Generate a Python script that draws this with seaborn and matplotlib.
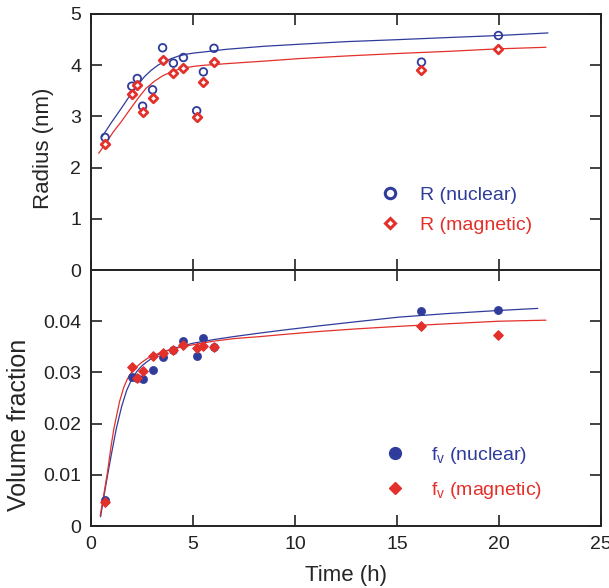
import pandas as pd
import seaborn as sns
import matplotlib.pyplot as plt
from matplotlib.lines import Line2D

# measured points (time in h)
time_h = [0.69, 2.0, 2.27, 2.53, 3.02, 3.51, 4.04, 4.53, 5.18, 5.51, 6.03, 16.2, 19.97]
R_nuc = [2.59, 3.59, 3.74, 3.20, 3.52, 4.34, 4.04, 4.15, 3.11, 3.87, 4.33, 4.06, 4.58]
R_mag = [2.47, 3.44, 3.61, 3.08, 3.35, 4.10, 3.85, 3.94, 2.98, 3.67, 4.06, 3.91, 4.31]
fv_nuc = [0.0051, 0.0292, 0.0289, 0.0288, 0.0304, 0.0330, 0.0344, 0.0361, 0.0333, 0.0367, 0.0349, 0.0419, 0.0421]
fv_mag = [0.0046, 0.0311, 0.0289, 0.0302, 0.0333, 0.0337, 0.0343, 0.0354, 0.0348, 0.0351, 0.0349, 0.0390, 0.0374]

# fitted curves
fitR_nuc_t = [0.54, 1.0, 1.49, 1.98, 2.3, 2.63, 2.95, 3.28, 3.6, 3.94, 4.3, 4.75, 5.1, 5.57, 6.0, 6.63,
			  8.5, 10.25, 12.5, 15.1, 17.5, 20.0, 22.4]
fitR_nuc = [2.60, 2.88, 3.16, 3.45, 3.62, 3.78, 3.90, 4.00, 4.07, 4.13, 4.18, 4.22, 4.24, 4.26, 4.28, 4.31,
			4.37, 4.41, 4.46, 4.50, 4.54, 4.58, 4.63]
fitR_mag_t = [0.38, 0.83, 1.1, 1.49, 1.9, 2.30, 2.7, 3.12, 3.5, 3.94, 4.3, 4.75, 5.1, 5.57, 6.0, 6.63,
			  8.5, 10.25, 12.5, 15.1, 17.5, 20.0, 22.3]
fitR_mag = [2.28, 2.54, 2.70, 2.90, 3.13, 3.35, 3.55, 3.69, 3.79, 3.87, 3.92, 3.96, 3.98, 4.00, 4.01, 4.03,
			4.08, 4.13, 4.18, 4.23, 4.27, 4.32, 4.35]
fitf_nuc_t = [0.47, 0.6, 0.83, 1.0, 1.24, 1.5, 1.75, 2.0, 2.25, 2.5, 2.75, 3.0, 3.5, 4.0, 4.5, 5.0, 6.0,
			  7.0, 8.3, 9.7, 11.2, 13.0, 15.1, 17.5, 20.0, 21.9]
fitf_nuc = [0.0018, 0.0050, 0.0103, 0.0140, 0.0190, 0.0233, 0.0265, 0.0287, 0.0302, 0.0313, 0.0321, 0.0328,
			0.0339, 0.0346, 0.0352, 0.0357, 0.0364, 0.0370, 0.0377, 0.0384, 0.0391, 0.0399, 0.0408, 0.0415,
			0.0421, 0.0425]
fitf_mag_t = [0.45, 0.6, 0.8, 1.0, 1.13, 1.4, 1.6, 1.78, 2.0, 2.2, 2.5, 2.75, 3.0, 3.5, 4.0, 4.5, 5.0,
			  6.0, 7.0, 8.3, 9.7, 11.2, 13.0, 15.1, 17.5, 20.0, 22.3]
fitf_mag = [0.0020, 0.0055, 0.0103, 0.0160, 0.0192, 0.0243, 0.0270, 0.0287, 0.0301, 0.0310, 0.0320, 0.0327,
			0.0332, 0.0340, 0.0346, 0.0350, 0.0354, 0.0361, 0.0366, 0.0370, 0.0375, 0.0380, 0.0385, 0.0390,
			0.0395, 0.0400, 0.0402]

blue = '#2f3c9c'
red = '#e3302a'

sns.set_style("ticks")
plt.rcParams['font.family'] = ['Liberation Sans', 'DejaVu Sans']
plt.rcParams['mathtext.default'] = 'regular'


def main():
	df = pd.DataFrame({'t': time_h, 'R_nuc': R_nuc, 'R_mag': R_mag,
					   'fv_nuc': fv_nuc, 'fv_mag': fv_mag})

	fig, (ax1, ax2) = plt.subplots(2, 1, sharex=True, figsize=(6.09, 5.88), dpi=100)
	fig.subplots_adjust(left=0.1494, right=0.9869, top=0.9762, bottom=0.1054, hspace=0)

	# top: radius
	sns.lineplot(x=fitR_nuc_t, y=fitR_nuc, ax=ax1, color=blue, lw=0.9, sort=False, estimator=None)
	sns.lineplot(x=fitR_mag_t, y=fitR_mag, ax=ax1, color=red, lw=0.9, sort=False, estimator=None)
	sns.scatterplot(x='t', y='R_nuc', data=df, ax=ax1, marker='o', s=30,
					facecolor='none', edgecolor=blue, linewidth=1.3, zorder=3)
	sns.scatterplot(x='t', y='R_mag', data=df, ax=ax1, marker='D', s=19,
					facecolor='white', edgecolor=red, linewidth=2.0, zorder=3)

	# bottom: volume fraction
	sns.lineplot(x=fitf_nuc_t, y=fitf_nuc, ax=ax2, color=blue, lw=0.9, sort=False, estimator=None)
	sns.lineplot(x=fitf_mag_t, y=fitf_mag, ax=ax2, color=red, lw=0.9, sort=False, estimator=None)
	sns.scatterplot(x='t', y='fv_nuc', data=df, ax=ax2, marker='o', s=34,
					color=blue, edgecolor=blue, linewidth=0.5, zorder=3)
	sns.scatterplot(x='t', y='fv_mag', data=df, ax=ax2, marker='D', s=24,
					color=red, edgecolor=red, linewidth=0.8, zorder=3)

	ax1.set_xlim(0, 25)
	ax1.set_ylim(0, 5)
	ax1.set_yticks([0, 1, 2, 3, 4, 5])
	ax1.set_yticklabels(['0', '1', '2', '3', '4', '5'])
	ax2.set_ylim(0, 0.05)
	ax2.set_yticks([0, 0.01, 0.02, 0.03, 0.04])
	ax2.set_yticklabels(['0', '0.01', '0.02', '0.03', '0.04'])
	ax2.set_xticks([0, 5, 10, 15, 20, 25])
	ax2.set_xticklabels(['0', '5', '10', '15', '20', '25'])

	ax1.set_xlabel('')
	ax1.set_ylabel('Radius (nm)', fontsize=16)
	ax2.set_ylabel('Volume fraction', fontsize=18)
	ax2.set_xlabel('Time (h)', fontsize=16, labelpad=9)
	ax1.yaxis.set_label_coords(-0.073, 0.477)
	ax2.yaxis.set_label_coords(-0.117, 0.395)

	for ax in (ax1, ax2):
		for sp in ax.spines.values():
			sp.set_visible(True)
			sp.set_linewidth(1.4)
			sp.set_color('#222222')
		ax.tick_params(direction='in', top=True, right=True, length=8, width=1.2,
					   labelsize=14, pad=7, colors='#222222')
		ax.tick_params(axis='x', labelbottom=(ax is ax2))

	h1 = [Line2D([], [], ls='', marker='o', ms=7.5, mfc='none', mec=blue, mew=2.2),
		  Line2D([], [], ls='', marker='D', ms=5.6, mfc='white', mec=red, mew=2.2)]
	ax1.legend(h1, ['R (nuclear)', 'R (magnetic)'], loc='center left',
			   bbox_to_anchor=(0.567, 0.234), frameon=False, borderpad=0,
			   borderaxespad=0, handlelength=1.0, handletextpad=1.06,
			   labelspacing=0.6, fontsize=14, labelcolor=[blue, red])

	h2 = [Line2D([], [], ls='', marker='o', ms=8.5, mfc=blue, mec=blue),
		  Line2D([], [], ls='', marker='D', ms=6.4, mfc=red, mec=red)]
	ax2.legend(h2, ['f$_{v}$ (nuclear)', 'f$_{v}$ (magnetic)'], loc='center left',
			   bbox_to_anchor=(0.577, 0.207), frameon=False, borderpad=0,
			   borderaxespad=0, handlelength=1.0, handletextpad=1.36,
			   labelspacing=0.71, fontsize=14, labelcolor=[blue, red])

	plt.savefig('out.png', dpi=100)


if __name__ == '__main__':
	main()
